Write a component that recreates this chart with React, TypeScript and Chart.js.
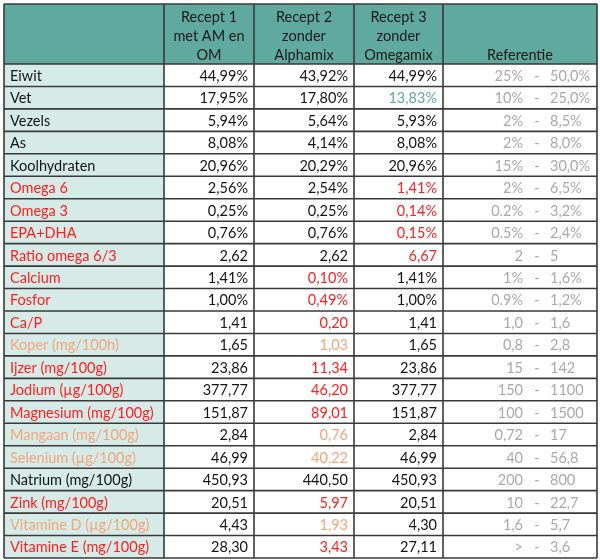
import React, { useEffect, useRef } from 'react';
import { Chart, registerables } from 'chart.js';
Chart.register(...registerables);

const rowLabels = [
  'Eiwit', 'Vet', 'Vezels', 'As', 'Koolhydraten', 'Omega 6', 'Omega 3', 'EPA+DHA',
  'Ratio omega 6/3', 'Calcium', 'Fosfor', 'Ca/P', 'Koper (mg/100h)', 'Ijzer (mg/100g)',
  'Jodium (µg/100g)', 'Magnesium (mg/100g)', 'Mangaan (mg/100g)', 'Selenium (µg/100g)',
  'Natrium (mg/100g)', 'Zink (mg/100g)', 'Vitamine D (µg/100g)', 'Vitamine E (mg/100g)',
];
const recept1 = [
  '44,99%', '17,95%', '5,94%', '8,08%', '20,96%', '2,56%', '0,25%', '0,76%',
  '2,62', '1,41%', '1,00%', '1,41', '1,65', '23,86', '377,77', '151,87',
  '2,84', '46,99', '450,93', '20,51', '4,43', '28,30',
];
const recept2 = [
  '43,92%', '17,80%', '5,64%', '4,14%', '20,29%', '2,54%', '0,25%', '0,76%',
  '2,62', '0,10%', '0,49%', '0,20', '1,03', '11,34', '46,20', '89,01',
  '0,76', '40,22', '440,50', '5,97', '1,93', '3,43',
];
const recept3 = [
  '44,99%', '13,83%', '5,93%', '8,08%', '20,96%', '1,41%', '0,14%', '0,15%',
  '6,67', '1,41%', '1,00%', '1,41', '1,65', '23,86', '377,77', '151,87',
  '2,84', '46,99', '450,93', '20,51', '4,30', '27,11',
];
const refLow = [
  '25%', '10%', '2%', '2%', '15%', '2%', '0.2%', '0.5%', '2', '1%', '0.9%', '1,0',
  '0,8', '15', '150', '100', '0,72', '40', '200', '10', '1,6', '>',
];
const refHigh = [
  '50,0%', '25,0%', '8,5%', '8,0%', '30,0%', '6,5%', '3,2%', '2,4%', '5', '1,6%', '1,2%', '1,6',
  '2,8', '142', '1100', '1500', '17', '56,8', '800', '22,7', '5,7', '3,6',
];
const labelColorKeys = ['k','k','k','k','k','r','r','r','r','r','r','r','o','r','r','r','o','o','k','r','o','r'];
const recept2ColorKeys = ['k','k','k','k','k','k','k','k','k','r','r','r','o','r','r','r','o','o','k','r','o','r'];
const recept3ColorKeys = ['k','t','k','k','k','r','r','r','r','k','k','k','k','k','k','k','k','k','k','k','k','k'];
const headerLines = [
  ['', '', ''],
  ['Recept 1', 'met AM en', 'OM'],
  ['Recept 2', 'zonder', 'Alphamix'],
  ['Recept 3', 'zonder', 'Omegamix'],
  ['', '', 'Referentie'],
];

// layout (not data)
const colEdges = [4, 164, 254, 354, 443, 597];
const HEADER_H = 60;
const palette: Record<string, string> = {
  k: '#141414', r: '#ff1e1e', o: '#f2a57a', t: '#5aaba3', g: '#a9a9a9',
};
const FONT = '14.5px Lato, "Open Sans", sans-serif';
const LINE = '#3a3a3a';

const tablePlugin = {
  id: 'tableDraw',
  beforeDatasetsDraw(chart: any) {
    const { ctx, chartArea, scales } = chart;
    const x = scales.x;
    const l = x.getPixelForValue(colEdges[0]);
    const r = x.getPixelForValue(colEdges[colEdges.length - 1]);
    ctx.save();
    ctx.fillStyle = '#ffffff';
    ctx.fillRect(0, 0, chart.width, chart.height);
    ctx.fillStyle = '#5fa99f';
    ctx.fillRect(l, chartArea.top - HEADER_H, r - l, HEADER_H);
    ctx.restore();
  },
  afterDatasetsDraw(chart: any) {
    const { ctx, chartArea, scales } = chart;
    const x = scales.x;
    const y = scales.y;
    const half = (y.getPixelForValue(1) - y.getPixelForValue(0)) / 2;
    const top = chartArea.top - HEADER_H;
    const bottom = y.getPixelForValue(rowLabels.length - 1) + half;
    const l = x.getPixelForValue(colEdges[0]);
    const r = x.getPixelForValue(colEdges[colEdges.length - 1]);
    ctx.save();
    // header text
    ctx.font = FONT;
    ctx.fillStyle = '#1a1a1a';
    ctx.textAlign = 'center';
    ctx.textBaseline = 'middle';
    headerLines.forEach((lines, ci) => {
      const cx = (x.getPixelForValue(colEdges[ci]) + x.getPixelForValue(colEdges[ci + 1])) / 2;
      lines.forEach((t, li) => {
        if (t) ctx.fillText(t, cx, top + 13 + li * 19);
      });
    });
    // body text
    rowLabels.forEach((lab, i) => {
      const cy = y.getPixelForValue(i) + 1;
      ctx.textAlign = 'left';
      ctx.fillStyle = palette[labelColorKeys[i]];
      ctx.fillText(lab, x.getPixelForValue(colEdges[0]) + 6, cy);
      ctx.textAlign = 'right';
      ctx.fillStyle = palette.k;
      ctx.fillText(recept1[i], x.getPixelForValue(colEdges[2]) - 6, cy);
      ctx.fillStyle = palette[recept2ColorKeys[i]];
      ctx.fillText(recept2[i], x.getPixelForValue(colEdges[3]) - 6, cy);
      ctx.fillStyle = palette[recept3ColorKeys[i]];
      ctx.fillText(recept3[i], x.getPixelForValue(colEdges[4]) - 6, cy);
      const rl = x.getPixelForValue(colEdges[4]);
      ctx.fillStyle = palette.g;
      ctx.fillText(refLow[i], rl + 80, cy);
      ctx.textAlign = 'center';
      ctx.fillText('-', rl + 94, cy);
      ctx.textAlign = 'left';
      ctx.fillText(refHigh[i], rl + 107, cy);
    });
    // lines
    ctx.strokeStyle = LINE;
    ctx.lineWidth = 1.6;
    ctx.beginPath();
    const hs = [top, chartArea.top];
    for (let i = 1; i <= rowLabels.length; i++) hs.push(y.getPixelForValue(i - 1) + half);
    hs.forEach((hy) => {
      ctx.moveTo(l, hy);
      ctx.lineTo(r, hy);
    });
    colEdges.forEach((e) => {
      const px = x.getPixelForValue(e);
      ctx.moveTo(px, top);
      ctx.lineTo(px, bottom);
    });
    ctx.stroke();
    ctx.restore();
  },
};

export default function App() {
  const ref = useRef<HTMLCanvasElement | null>(null);
  useEffect(() => {
    document.body.style.margin = '0';
    if (!ref.current) return;
    const chart = new Chart(ref.current, {
      type: 'bar',
      data: {
        labels: rowLabels,
        datasets: colEdges.slice(0, -1).map((e, i) => ({
          label: 'col' + i,
          data: rowLabels.map(() => [colEdges[i], colEdges[i + 1]]) as any,
          backgroundColor: i === 0 ? '#d6ebe7' : '#ffffff',
          borderWidth: 0,
          barPercentage: 1,
          categoryPercentage: 1,
          grouped: false,
        })),
      },
      options: {
        indexAxis: 'y',
        responsive: false,
        animation: false,
        layout: { padding: { left: 4, right: 3, top: 4 + HEADER_H, bottom: 2 } },
        scales: {
          x: { type: 'linear', min: colEdges[0], max: colEdges[colEdges.length - 1], display: false },
          y: { type: 'category', display: false, offset: true },
        },
        plugins: { legend: { display: false }, tooltip: { enabled: false } },
      },
      plugins: [tablePlugin],
    });
    return () => chart.destroy();
  }, []);
  return (
    <div style={{ position: 'absolute', left: 0, top: 0, width: 600, height: 560 }}>
      <canvas ref={ref} width={600} height={560} style={{ width: 600, height: 560 }} />
    </div>
  );
}
